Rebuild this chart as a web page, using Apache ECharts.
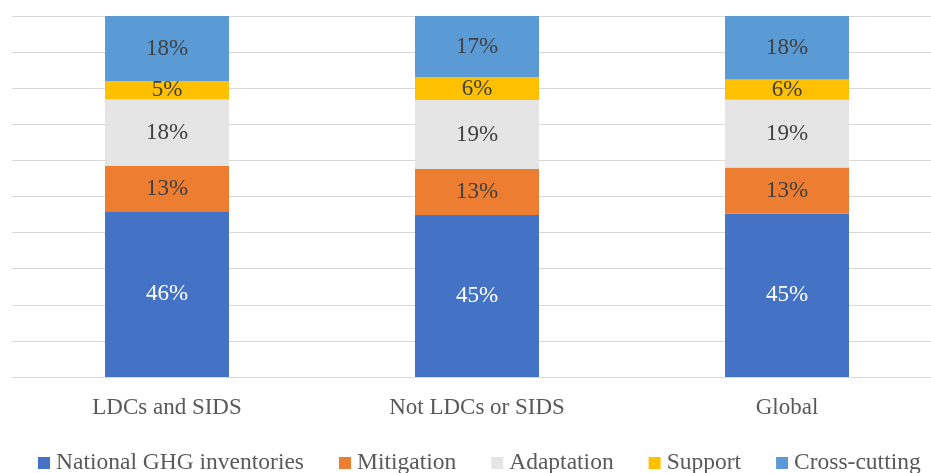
<!DOCTYPE html>
<html>
<head>
<meta charset="utf-8">
<script src="https://cdn.jsdelivr.net/npm/echarts@6/dist/echarts.min.js"></script>
<style>
  html, body { margin: 0; padding: 0; background: #ffffff; overflow: hidden; }
  #chart { width: 943px; height: 473px; }
</style>
</head>
<body>
<div id="chart"></div>
<script>
// Share of activities by type (percent of total), per country group
const categories = ['LDCs and SIDS', 'Not LDCs or SIDS', 'Global'];
const seriesNames = ['National GHG inventories', 'Mitigation', 'Adaptation', 'Support', 'Cross-cutting'];
const inventories = [45.9, 44.9, 45.2];
const mitigation = [12.6, 12.7, 12.8];
const adaptation = [18.4, 19.1, 18.8];
const support = [5.0, 6.4, 5.6];
const crossCutting = [18.1, 16.9, 17.6];
const yTicks = [0, 10, 20, 30, 40, 50, 60, 70, 80, 90, 100];

const colors = ['#4472C4', '#ED7D31', '#E5E5E5', '#FFC000', '#5B9BD5'];
const seriesData = [inventories, mitigation, adaptation, support, crossCutting];
const fontFamily = "'Liberation Serif', 'Times New Roman', serif";

// the plot runs slightly past the right edge of the visible page
const chart = echarts.init(document.getElementById('chart'), null, { renderer: 'canvas' });

chart.setOption({
  animation: false,
  backgroundColor: '#ffffff',
  color: colors,
  grid: { left: 12, top: 16, width: 930, height: 361, containLabel: false },
  legend: {
    data: seriesNames,
    left: 38,
    top: 451,
    padding: 0,
    itemWidth: 12,
    itemHeight: 12,
    itemGap: 35,
    icon: 'rect',
    textStyle: { fontFamily: fontFamily, fontSize: 23.5, color: '#595959', padding: [0, 0, 0, 1] }
  },
  xAxis: {
    type: 'category',
    data: categories,
    axisLine: { show: true, lineStyle: { color: '#D9D9D9', width: 1 } },
    axisTick: { show: false },
    axisLabel: { fontFamily: fontFamily, fontSize: 23, color: '#595959', margin: 19 }
  },
  yAxis: {
    type: 'value',
    min: yTicks[0],
    max: yTicks[yTicks.length - 1],
    interval: yTicks[1] - yTicks[0],
    axisLabel: { show: false },
    axisLine: { show: false },
    axisTick: { show: false },
    splitLine: { show: true, lineStyle: { color: '#D9D9D9', width: 1 } }
  },
  series: seriesNames.map((name, i) => ({
    name: name,
    type: 'bar',
    stack: 'total',
    barWidth: '40%',
    data: seriesData[i],
    itemStyle: { color: colors[i] },
    label: {
      show: true,
      position: 'inside',
      formatter: p => Math.round(p.value) + '%',
      fontFamily: fontFamily,
      fontSize: 23,
      color: i === 0 ? '#ffffff' : '#404040'
    }
  }))
});
</script>
</body>
</html>
